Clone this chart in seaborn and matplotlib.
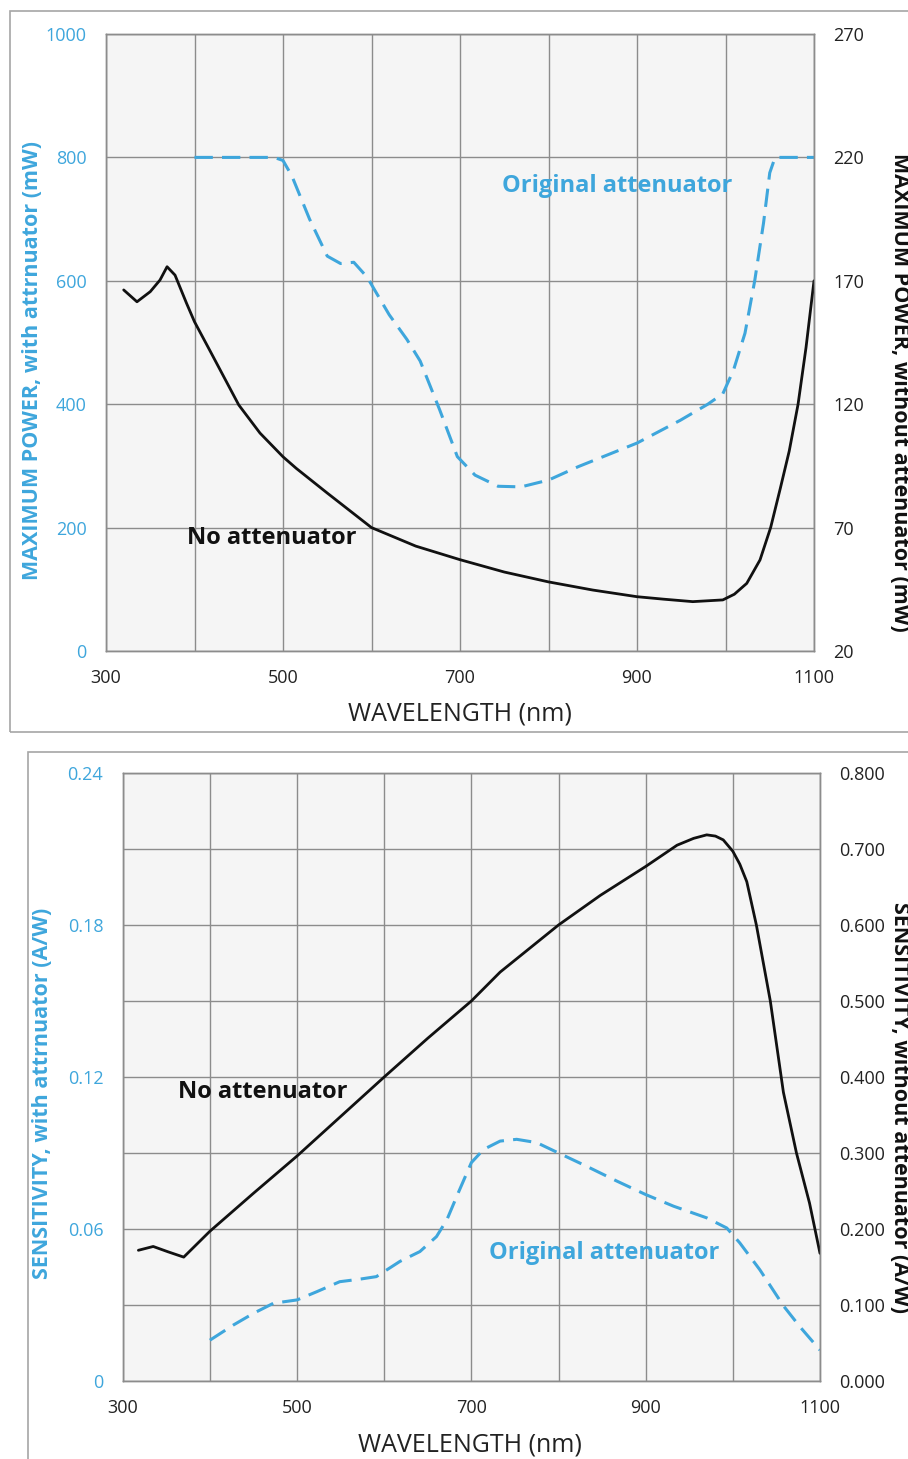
import numpy as np
import pandas as pd
import matplotlib
matplotlib.use("Agg")
import matplotlib.pyplot as plt
from matplotlib.patches import Rectangle
import matplotlib.ticker as mticker
import seaborn as sns

# ---------------- data ----------------
# Top panel: maximum power
wl_pow_noatt = [320, 335, 350, 361, 369, 378, 391, 400, 417, 450, 474, 500, 515, 550,
                600, 650, 700, 750, 800, 850, 900, 930, 963, 997, 1010, 1024, 1039,
                1051, 1062, 1072, 1082, 1091, 1100]
pow_noatt = [166.3, 161.5, 165.6, 170.3, 175.7, 172.3, 160.9, 153.4, 142, 119.7, 108.3,
             98.7, 94, 84, 70, 62.5, 57, 52, 48, 44.7, 42, 41, 40, 40.7, 43, 47.4, 56.9,
             70, 86, 101, 120, 143, 170]

wl_pow_att = [400, 450, 490, 500, 510, 530, 550, 565, 580, 595, 620, 640, 655, 677,
              697, 717, 743, 769, 800, 834, 900, 949, 980, 997, 1009, 1022, 1033, 1043,
              1050, 1056, 1100]
pow_att = [800, 800, 800, 795, 770, 700, 640, 628, 630, 606, 545, 505, 470, 391,
           315, 285, 267, 266, 277, 299, 337, 374, 400, 417, 455, 515, 600, 694,
           775, 800, 800]

# Bottom panel: sensitivity
wl_sens_noatt = [318, 335, 352, 370, 400, 450, 500, 550, 600, 650, 700, 733, 800, 848,
                 900, 936, 955, 970, 980, 989, 1000, 1008, 1016, 1027, 1043, 1058, 1073,
                 1088, 1100]
sens_noatt = [0.172, 0.177, 0.170, 0.163, 0.197, 0.247, 0.296, 0.348, 0.400, 0.451,
              0.500, 0.538, 0.600, 0.639, 0.677, 0.705, 0.714, 0.7186, 0.717, 0.712,
              0.697, 0.680, 0.657, 0.600, 0.500, 0.380, 0.300, 0.234, 0.168]

wl_sens_att = [400, 427, 450, 473, 500, 523, 549, 572, 591, 600, 618, 641, 660, 672,
               685, 700, 714, 733, 752, 775, 800, 832, 867, 900, 932, 970, 993, 1008,
               1031, 1058, 1077, 1100]
sens_att = [0.0161, 0.0221, 0.0267, 0.0307, 0.032, 0.0353, 0.0392, 0.0402, 0.0412,
            0.0432, 0.0472, 0.0511, 0.057, 0.0637, 0.0743, 0.0862, 0.0914, 0.0947,
            0.0954, 0.0941, 0.090, 0.0848, 0.0789, 0.0736, 0.069, 0.0644, 0.0604,
            0.0545, 0.0439, 0.0297, 0.0214, 0.0122]

top_left_ticks = [0, 200, 400, 600, 800, 1000]
top_right_ticks = [20, 70, 120, 170, 220, 270]
bot_left_ticks = [0, 0.06, 0.12, 0.18, 0.24]
bot_right_ticks = [0.0, 0.1, 0.2, 0.3, 0.4, 0.5, 0.6, 0.7, 0.8]
x_ticks = [300, 500, 700, 900, 1100]

# ---------------- style ----------------
sns.set_theme(style="white")
plt.rcParams["font.family"] = ["Open Sans", "DejaVu Sans"]

BLUE = "#3ea6dc"
GRID = "#8c8c8c"
FACE = "#f5f5f5"
DASH = (0, (6, 3))

W, H = 908, 1459
fig = plt.figure(figsize=(W / 100, H / 100), dpi=100)


def fx(px):
    return px / W


def fy(py):
    return 1 - py / H


# outer frames
fig.patches.append(Rectangle((fx(10), fy(732)), fx(1000), (732 - 11) / H,
                             transform=fig.transFigure, fill=False,
                             edgecolor="#a6a6a6", lw=1.2, zorder=0))
fig.patches.append(Rectangle((fx(28), fy(1500)), fx(1000), (1500 - 752) / H,
                             transform=fig.transFigure, fill=False,
                             edgecolor="#a6a6a6", lw=1.2, zorder=0))


def setup(ax, axr, x0, x1, y0, y1, ylim_l, ylim_r, lticks, rticks, lminor, lfmt, rfmt):
    ax.set_position([fx(x0), fy(y1), fx(x1 - x0), (y1 - y0) / H])
    axr.set_position([fx(x0), fy(y1), fx(x1 - x0), (y1 - y0) / H])
    ax.set_facecolor(FACE)
    ax.set_xlim(300, 1100)
    ax.set_ylim(*ylim_l)
    axr.set_ylim(*ylim_r)
    ax.set_xticks(x_ticks)
    ax.xaxis.set_minor_locator(mticker.FixedLocator([400, 600, 800, 1000]))
    ax.set_yticks(lticks)
    ax.yaxis.set_minor_locator(mticker.FixedLocator(lminor))
    ax.yaxis.set_major_formatter(mticker.FuncFormatter(lfmt))
    axr.set_yticks(rticks)
    axr.yaxis.set_major_formatter(mticker.FuncFormatter(rfmt))
    ax.grid(True, which="both", color=GRID, lw=1.0)
    ax.set_axisbelow(True)
    ax.tick_params(axis="both", which="both", length=0)
    ax.tick_params(axis="x", pad=13, labelsize=13, labelcolor="#222222")
    ax.tick_params(axis="y", pad=14, labelsize=13, labelcolor=BLUE)
    axr.tick_params(axis="y", length=0, pad=14, labelsize=13, labelcolor="#222222")
    for a in (ax, axr):
        for s in a.spines.values():
            s.set_color(GRID)
            s.set_linewidth(1.0)
    ax.set_xlabel("")
    ax.set_ylabel("")
    axr.set_ylabel("")


# ---------------- top panel ----------------
ax1 = fig.add_axes([0.1, 0.5, 0.8, 0.4])
ax1r = ax1.twinx()
df_pa = pd.DataFrame({"wl": wl_pow_att, "p": pow_att})
df_pn = pd.DataFrame({"wl": wl_pow_noatt, "p": pow_noatt})
sns.lineplot(data=df_pa, x="wl", y="p", ax=ax1, color=BLUE, lw=2.2,
             linestyle=DASH, errorbar=None, sort=False)
sns.lineplot(data=df_pn, x="wl", y="p", ax=ax1r, color="#111111", lw=2.0,
             errorbar=None, sort=False)
setup(ax1, ax1r, 106, 814, 34, 651, (0, 1000), (20, 270),
      top_left_ticks, top_right_ticks, [],
      lambda v, p: f"{v:.0f}", lambda v, p: f"{v:.0f}")
ax1.text(747, 754, "Original attenuator", color=BLUE, fontsize=17,
         fontweight="bold", ha="left", va="center")
ax1.text(391, 183, "No attenuator", color="#111111", fontsize=17,
         fontweight="bold", ha="left", va="center")

fig.text(fx(460), fy(714), "WAVELENGTH (nm)", ha="center", va="center",
         fontsize=18, color="#222222")
fig.text(fx(33), fy(360), "MAXIMUM POWER, with attrnuator (mW)", rotation=90,
         ha="center", va="center", fontsize=15.5, fontweight="bold", color=BLUE)
fig.text(fx(899), fy(392), "MAXIMUM POWER, without attenuator (mW)", rotation=-90,
         ha="center", va="center", fontsize=15.5, fontweight="bold", color="#111111")

# ---------------- bottom panel ----------------
ax2 = fig.add_axes([0.1, 0.05, 0.8, 0.4])
ax2r = ax2.twinx()
df_sa = pd.DataFrame({"wl": wl_sens_att, "s": sens_att})
df_sn = pd.DataFrame({"wl": wl_sens_noatt, "s": sens_noatt})
sns.lineplot(data=df_sa, x="wl", y="s", ax=ax2, color=BLUE, lw=2.2,
             linestyle=DASH, errorbar=None, sort=False)
sns.lineplot(data=df_sn, x="wl", y="s", ax=ax2r, color="#111111", lw=2.0,
             errorbar=None, sort=False)
setup(ax2, ax2r, 122.7, 820, 773, 1381, (0, 0.24), (0, 0.8),
      bot_left_ticks, bot_right_ticks, [0.03, 0.09, 0.15, 0.21],
      lambda v, p: "0" if v == 0 else f"{v:.2f}", lambda v, p: f"{v:.3f}")
ax2.text(363, 0.114, "No attenuator", color="#111111", fontsize=17,
         fontweight="bold", ha="left", va="center")
ax2.text(720, 0.0506, "Original attenuator", color=BLUE, fontsize=17,
         fontweight="bold", ha="left", va="center")

fig.text(fx(470), fy(1445), "WAVELENGTH (nm)", ha="center", va="center",
         fontsize=18, color="#222222")
fig.text(fx(43), fy(1093), "SENSITIVITY, with attrnuator (A/W)", rotation=90,
         ha="center", va="center", fontsize=15.5, fontweight="bold", color=BLUE)
fig.text(fx(900), fy(1107), "SENSITIVITY, without attenuator (A/W)", rotation=-90,
         ha="center", va="center", fontsize=15.5, fontweight="bold", color="#111111")

fig.savefig("out.png", dpi=100)
